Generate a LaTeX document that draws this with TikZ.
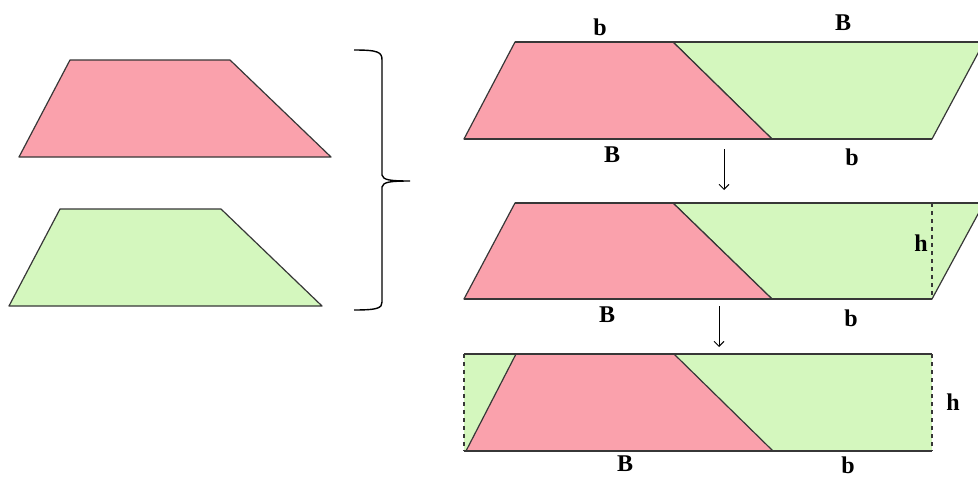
\documentclass[tikz,border=0pt]{standalone}
\usepackage{fontspec}
\setmainfont{Liberation Serif}
\usetikzlibrary{arrows.meta}
\definecolor{pinkf}{RGB}{250,161,172}
\definecolor{greenf}{RGB}{212,247,190}
\definecolor{edge}{RGB}{55,55,55}
\begin{document}
\begin{tikzpicture}[x=1pt,y=-1pt,
  pinkpart/.style={fill=pinkf,draw=edge,line width=1.2pt,line join=round},
  greenpart/.style={fill=greenf,draw=edge,line width=1.2pt,line join=round},
  greenfill/.style={fill=greenf},
  edgeline/.style={draw=edge,line width=1.4pt},
  hline/.style={draw=edge,line width=1.3pt,dash pattern=on 4pt off 4pt},
  lbl/.style={inner sep=0pt,font=\fontsize{24}{28}\selectfont\bfseries},
  stepline/.style={draw=black,line width=0.9pt,-{Straight Barb[length=5pt,width=10pt]}}]
\clip (0,0) rectangle (978,477);
\fill[white] (0,0) rectangle (978,477);
% left trapezoids
\draw[pinkpart] (19,157) -- (70,60) -- (230,60) -- (331,157) -- cycle;
\draw[greenpart] (9,306) -- (60,209) -- (221,209) -- (322,306) -- cycle;
% brace
\draw[black,line width=1.4pt] (354,50) .. controls (378,50) and (382,52) .. (382,60) -- (382,175)
  .. controls (383,180) and (390,181) .. (410,181)
  .. controls (390,181) and (383,182) .. (382,187) -- (382,302)
  .. controls (382,308) and (378,310) .. (354,310);
% first figure
\draw[greenpart] (673,42) -- (984,42) -- (932,139) -- (772,139) -- cycle;
\draw[pinkpart] (464,139) -- (515,42) -- (673,42) -- (772,139) -- cycle;
\draw[edgeline] (464,139) -- (932,139);
\draw[edgeline] (515,42) -- (978,42);
\node[lbl] (b1) at (600,27) {b};
\node[lbl] (B1) at (843,23) {B};
\node[lbl] (B2) at (612,155) {B};
\node[lbl] (b2) at (852,157) {b};
\coordinate (a1s) at (724,149);
\coordinate (a1e) at (724,190);
\draw[stepline] (a1s) -- (a1e);
% second figure
\draw[greenpart] (673,203) -- (984,203) -- (932,299) -- (772,299) -- cycle;
\draw[pinkpart] (464,299) -- (515,203) -- (673,203) -- (772,299) -- cycle;
\draw[edgeline] (464,299) -- (932,299);
\draw[edgeline] (515,203) -- (978,203);
\draw[hline] (932,203) -- (932,299);
\node[lbl] (h1) at (921,243) {h};
\node[lbl] (B3) at (607,315) {B};
\node[lbl] (b3) at (851,318) {b};
\coordinate (a2s) at (719,306);
\coordinate (a2e) at (719,347);
\draw[stepline] (a2s) -- (a2e);
% third figure
\fill[greenfill] (464,354) rectangle (932,451);
\draw[pinkpart] (466,451) -- (516,354) -- (674,354) -- (773,451) -- cycle;
\draw[edgeline] (464,354) -- (932,354);
\draw[edgeline] (464,451) -- (932,451);
\draw[hline] (464,354) -- (464,451);
\draw[hline] (932,354) -- (932,451);
\node[lbl] (h2) at (953,402) {h};
\node[lbl] (B4) at (625,464) {B};
\node[lbl] (b4) at (848,465) {b};
\end{tikzpicture}
\end{document}
